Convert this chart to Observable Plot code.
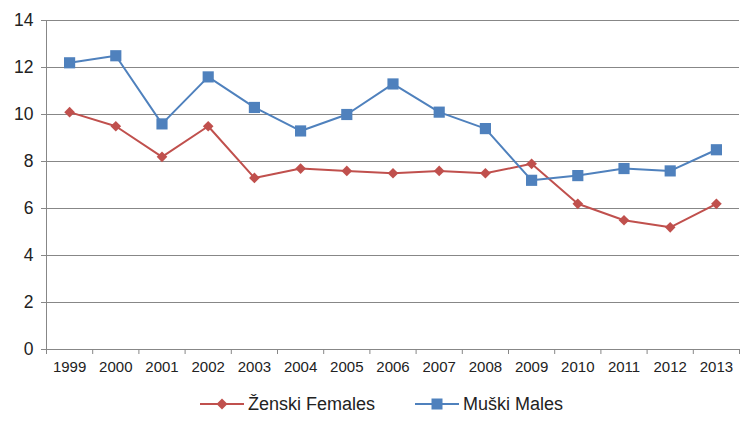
<!DOCTYPE html>
<html>
<head>
<meta charset="utf-8">
<script src="https://cdn.jsdelivr.net/npm/d3@7"></script>
<script src="https://cdn.jsdelivr.net/npm/@observablehq/plot@0.6"></script>
<style>
  body { margin: 0; background: #fff; font-family: "Liberation Sans", Arial, sans-serif; }
  #chart svg { display: block; }
  .legend { display: flex; align-items: center; margin-left: 200px; height: 48px; font-size: 18px; color: #222; }
  .item { display: flex; align-items: center; }
  .item svg { margin-right: 4px; }
</style>
</head>
<body>
<div id="chart"></div>
<div class="legend">
  <div class="item">
    <svg width="44" height="14"><line x1="0" y1="7" x2="44" y2="7" stroke="#C0504D" stroke-width="2"/><path d="M22,1.5L27.5,7L22,12.5L16.5,7Z" fill="#C0504D"/></svg>
    <span>Ženski Females</span>
  </div>
  <div class="item" style="margin-left:40px">
    <svg width="44" height="14"><line x1="0" y1="7" x2="44" y2="7" stroke="#4F81BD" stroke-width="2"/><rect x="16.5" y="1.5" width="11" height="11" fill="#4F81BD"/></svg>
    <span>Muški Males</span>
  </div>
</div>
<script>
const years = [1999, 2000, 2001, 2002, 2003, 2004, 2005, 2006, 2007, 2008, 2009, 2010, 2011, 2012, 2013];
const females = [10.1, 9.5, 8.2, 9.5, 7.3, 7.7, 7.6, 7.5, 7.6, 7.5, 7.9, 6.2, 5.5, 5.2, 6.2];
const males = [12.2, 12.5, 9.6, 11.6, 10.3, 9.3, 10.0, 11.3, 10.1, 9.4, 7.2, 7.4, 7.7, 7.6, 8.5];
const yTicks = [0, 2, 4, 6, 8, 10, 12, 14];

const fData = years.map((y, i) => ({year: y, value: females[i]}));
const mData = years.map((y, i) => ({year: y, value: males[i]}));
const boundaries = [years[0] - 0.5, ...years.map(y => y + 0.5)];

const chart = Plot.plot({
  width: 740,
  height: 380,
  marginTop: 20,
  marginBottom: 31,
  marginLeft: 46,
  marginRight: 1,
  style: {fontFamily: "Liberation Sans, Arial, sans-serif", color: "#222", background: "#fff"},
  x: {domain: [years[0] - 0.5, years[years.length - 1] + 0.5], axis: null},
  y: {domain: [0, 14], axis: null},
  marks: [
    Plot.ruleY(yTicks, {stroke: "#878787", strokeWidth: 1, strokeOpacity: 1}),
    Plot.ruleX([years[0] - 0.5], {y1: 0, y2: 14, stroke: "#878787", strokeOpacity: 1}),
    Plot.axisY({ticks: yTicks, tickSize: 5, tickPadding: 8, fontSize: 17.5, stroke: "#878787", strokeOpacity: 1, label: null, tickFormat: d => String(d)}),
    Plot.axisX({ticks: boundaries, tickSize: 5, tickFormat: () => "", stroke: "#878787", strokeOpacity: 1, label: null}),
    Plot.axisX({ticks: years, tickSize: 0, tickPadding: 12, fontSize: 15, tickFormat: d => String(d), label: null}),
    Plot.line(fData, {x: "year", y: "value", stroke: "#C0504D", strokeWidth: 2}),
    Plot.line(mData, {x: "year", y: "value", stroke: "#4F81BD", strokeWidth: 2}),
    Plot.dot(fData, {x: "year", y: "value", symbol: "diamond2", r: 4.8, fill: "#C0504D", stroke: "none"}),
    Plot.dot(mData, {x: "year", y: "value", symbol: "square", r: 6.3, fill: "#4F81BD", stroke: "none"})
  ]
});
document.getElementById("chart").appendChild(chart);
</script>
</body>
</html>
